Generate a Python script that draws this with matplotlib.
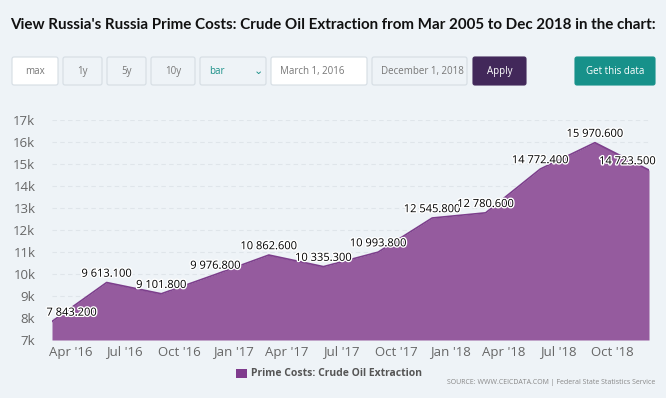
import matplotlib
matplotlib.use("Agg")
import matplotlib.pyplot as plt
import matplotlib.dates as mdates
import matplotlib.patheffects as pe
from matplotlib.patches import FancyBboxPatch, Rectangle
import pandas as pd

# 데이터
dates = pd.to_datetime(["2016-03-01", "2016-06-01", "2016-09-01", "2016-12-01",
                        "2017-03-01", "2017-06-01", "2017-09-01", "2017-12-01",
                        "2018-03-01", "2018-06-01", "2018-09-01", "2018-12-01"])
values = [7843.2, 9613.1, 9101.8, 9976.8, 10862.6, 10335.3,
          10993.8, 12545.8, 12780.6, 14772.4, 15970.6, 14723.5]
labels = ["7 843.200", "9 613.100", "9 101.800", "9 976.800", "10 862.600", "10 335.300",
          "10 993.800", "12 545.800", "12 780.600", "14 772.400", "15 970.600", "14 723.500"]
tick_dates = pd.date_range("2016-04-01", "2018-10-01", freq="3MS")
tick_labels = [d.strftime("%b '%y") for d in tick_dates]
y_ticks = list(range(7000, 18000, 1000))
y_labels = [f"{v // 1000}k" for v in y_ticks]

bg = "#eef3f7"
fill_c = "#955b9e"
line_c = "#7d3f8c"
W, H = 666, 398

fig = plt.figure(figsize=(W / 100, H / 100), dpi=100, facecolor=bg)
plt.rcParams['font.family'] = ['Open Sans', 'DejaVu Sans']

# 제목
fig.text(10 / W, 1 - 25 / H, "View Russia's Russia Prime Costs: Crude Oil Extraction from Mar 2005 to Dec 2018 in the chart:",
         fontsize=10.9, fontweight='bold', color='#111111', va='center', ha='left',
         family=['Lato', 'DejaVu Sans'])

# 버튼 줄
ov = fig.add_axes([0, 0, 1, 1], facecolor='none')
ov.set_xlim(0, W)
ov.set_ylim(H, 0)
ov.axis('off')
buttons = [
    (12, 58, "max", "white", "#777777", "center"),
    (63, 102, "1y", bg, "#777777", "center"),
    (107, 146, "5y", bg, "#777777", "center"),
    (151, 195, "10y", bg, "#777777", "center"),
    (200, 266, "bar", bg, "#1a9088", "left"),
    (271, 367, "March 1, 2016", "white", "#777777", "left"),
    (372, 467, "December 1, 2018", bg, "#777777", "left"),
    (473, 526, "Apply", "#42285a", "white", "center"),
    (575, 655, "Get this data", "#17918a", "white", "center"),
]
for x0, x1, txt, fc, tc, al in buttons:
    ec = "#d5dde3" if fc in ("white", bg) else fc
    ov.add_patch(FancyBboxPatch((x0, 57), x1 - x0, 28, boxstyle="round,pad=0,rounding_size=2",
                                facecolor=fc, edgecolor=ec, linewidth=0.8))
    if al == "center":
        ov.text((x0 + x1) / 2, 71.5, txt, color=tc, fontsize=7, ha='center', va='center')
    else:
        ov.text(x0 + 9, 71.5, txt, color=tc, fontsize=7, ha='left', va='center')
ov.text(258, 71, "\u2304", color="#1a9088", fontsize=8, ha='center', va='center')

# 범례 / 출처
ov.add_patch(Rectangle((236, 369), 11, 9, facecolor="#7f3b8d", edgecolor='none'))
ov.text(251, 374, "Prime Costs: Crude Oil Extraction", fontsize=7.5, fontweight='bold',
        color='#555555', ha='left', va='center')
ov.text(655, 383, "SOURCE: WWW.CEICDATA.COM | Federal State Statistics Service", fontsize=5,
        color='#888888', ha='right', va='center')

# 차트
ax = fig.add_axes([52 / W, 1 - 340 / H, (649 - 52) / W, (340 - 120) / H], facecolor=bg)
ax.fill_between(dates, values, 7000, color=fill_c, linewidth=0, zorder=2)
ax.plot(dates, values, color=line_c, linewidth=1.2, zorder=3)
ax.set_xlim(dates[0], dates[-1])
ax.set_ylim(7000, 17000)
ax.set_yticks(y_ticks)
ax.set_yticklabels(y_labels)
ax.set_xticks(tick_dates)
ax.set_xticklabels(tick_labels)
ax.tick_params(axis='both', length=0, colors='#666666', labelsize=9.5)
ax.tick_params(axis='y', pad=12)
ax.tick_params(axis='x', pad=4)
ax.grid(axis='y', color='#dfe5ea', linewidth=0.8, linestyle=(0, (4, 3)), zorder=1)
for s in ax.spines.values():
    s.set_visible(False)

for i, (d, v, lab) in enumerate(zip(dates, values, labels)):
    ha = 'center'
    dx = 0
    if i == 0:
        ha, dx = 'left', -4
    elif i == len(values) - 1:
        ha, dx = 'right', 5
    ax.annotate(lab, (d, v), xytext=(dx, 6), textcoords='offset points', ha=ha, va='center',
                fontsize=8, color='black', annotation_clip=False, zorder=5,
                path_effects=[pe.withStroke(linewidth=2, foreground='white')])

fig.savefig("out.png", dpi=100, facecolor=bg)
